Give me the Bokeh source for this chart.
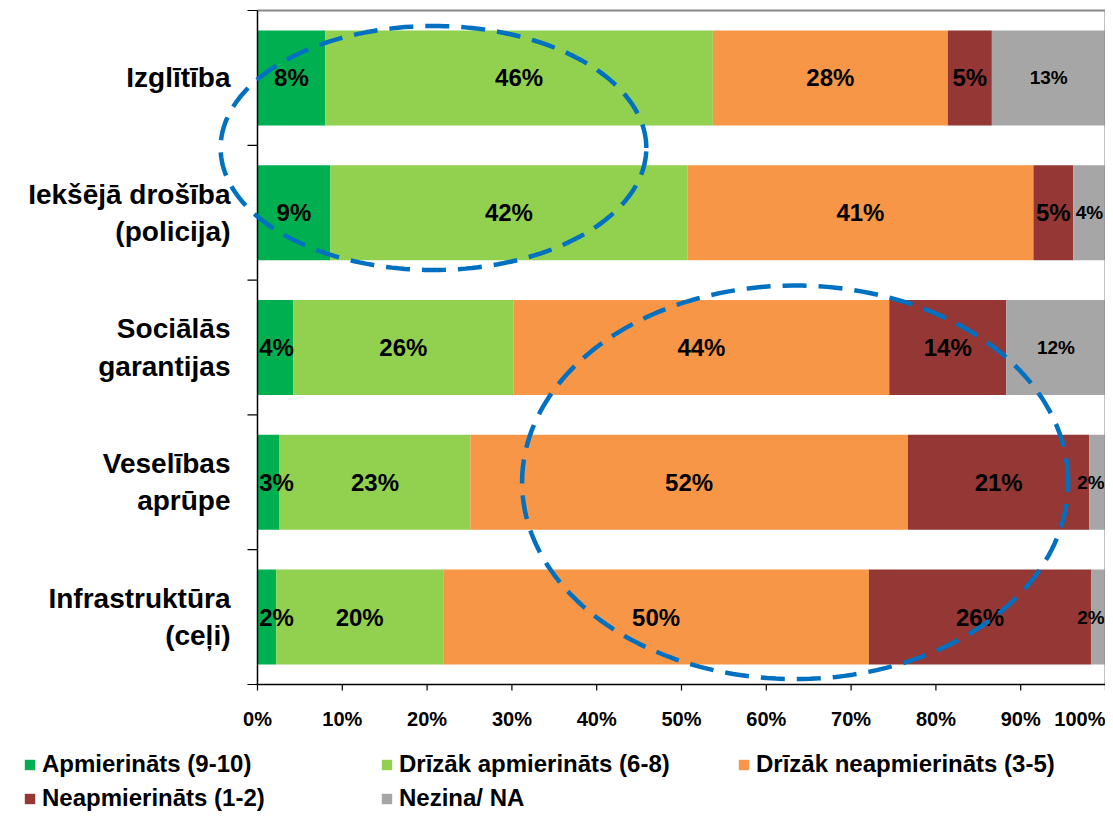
import numpy as np
from bokeh.plotting import figure
from bokeh.models import Range1d, Legend, LegendItem, PolyAnnotation, ColumnDataSource
from bokeh.core.properties import value
from bokeh.embed import file_html
from bokeh.resources import INLINE

# ---------------- data ----------------
categories = ["Izglītība", "Iekšējā drošība\n(policija)", "Sociālās\ngarantijas",
              "Veselības\naprūpe", "Infrastruktūra\n(ceļi)"]
series_names = ["Apmierināts (9-10)", "Drīzāk apmierināts (6-8)", "Drīzāk neapmierināts (3-5)",
                "Neapmierināts (1-2)", "Nezina/ NA"]
apmierinats = [8.0, 8.6, 4.2, 2.6, 2.2]
drizak_apmierinats = [45.7, 42.1, 26.0, 22.5, 19.7]
drizak_neapmierinats = [27.7, 40.8, 44.3, 51.6, 50.2]
neapmierinats = [5.2, 4.7, 13.8, 21.4, 26.2]
nezina = [13.4, 3.8, 11.7, 1.9, 1.7]
label_apm = ["8%", "9%", "4%", "3%", "2%"]
label_dapm = ["46%", "42%", "26%", "23%", "20%"]
label_dneapm = ["28%", "41%", "44%", "52%", "50%"]
label_neapm = ["5%", "5%", "14%", "21%", "26%"]
label_nezina = ["13%", "4%", "12%", "2%", "2%"]
x_ticks = [0, 10, 20, 30, 40, 50, 60, 70, 80, 90, 100]
x_tick_labels = ["0%", "10%", "20%", "30%", "40%", "50%", "60%", "70%", "80%", "90%", "100%"]

colors = ["#00B050", "#92D050", "#F79646", "#953735", "#A6A6A6"]
label_sizes = ["24px", "24px", "24px", "24px", "19px"]
FONT = "Liberation Sans"

# highlight ellipses (annotation overlay): centre x (%), centre y (band units), semi-axes
ellipses = [(20.75, 3.98, 25.1, 0.905), (63.4, 1.50, 32.2, 1.46)]

series = [apmierinats, drizak_apmierinats, drizak_neapmierinats, neapmierinats, nezina]
labels = [label_apm, label_dapm, label_dneapm, label_neapm, label_nezina]

n = len(categories)
ypos = [n - 0.5 - i for i in range(n)]

# ---------------- geometry (pixels) ----------------
W, H = 1105, 812
AXIS_X_PX, FRAME_LEFT_PX = 257, 23       # value axis origin, left edge of drawing area
TOP_PX, BOTTOM_PX = 10, 684              # top and bottom of the bar area
PX_X = (W - AXIS_X_PX) / 100.0           # pixels per percent
PX_Y = (BOTTOM_PX - TOP_PX) / n          # pixels per category band

p = figure(width=W, height=H, output_backend="svg", toolbar_location=None, title=None,
           x_range=Range1d(-(AXIS_X_PX - FRAME_LEFT_PX) / PX_X, 100),
           y_range=Range1d(-(H - BOTTOM_PX) / PX_Y, n + TOP_PX / PX_Y),
           x_axis_location=None, y_axis_location=None,
           min_border_left=FRAME_LEFT_PX, min_border_right=0, min_border_top=0, min_border_bottom=0)
p.outline_line_color = None
p.background_fill_color = "white"
p.border_fill_color = "white"
p.grid.visible = False

# bars
left = [0.0] * n
renderers = []
for s, col in zip(series, colors):
    right = [l + v for l, v in zip(left, s)]
    src = ColumnDataSource(dict(y=ypos, left=left, right=right))
    renderers.append(p.hbar(y="y", left="left", right="right", height=0.705, source=src,
                            fill_color=col, line_color=None))
    left = right

# data labels: centred in their segment; narrow end segments anchored inside the plot box
left = [0.0] * n
last = len(series) - 1
for k, (s, lab, size) in enumerate(zip(series, labels, label_sizes)):
    groups = {"center": ([], [], []), "left": ([], [], []), "right": ([], [], [])}
    for l, v, y, t in zip(left, s, ypos, lab):
        if k == 0 and v < 4.5:
            g, x = "left", l + 0.2
        elif k == last and v < 3:
            g, x = "right", l + v - 0.1
        else:
            g, x = "center", l + v / 2
        groups[g][0].append(x)
        groups[g][1].append(y)
        groups[g][2].append(t)
    for align, (xs, ys, ts) in groups.items():
        if xs:
            p.text(x=xs, y=ys, text=ts, text_font=value(FONT), text_font_style="bold",
                   text_font_size=size, text_align=align, text_baseline="middle",
                   text_color="black")
    left = [l + v for l, v in zip(left, s)]

# plot box: grey top/right border, black axis lines
p.segment(x0=[0, 100], y0=[n, 0], x1=[100, 100], y1=[n, n], line_color="#888888", line_width=2)
p.segment(x0=[0, 0], y0=[0, 0], x1=[0, 100], y1=[n, 0], line_color="black", line_width=1.5)

# category axis: ticks at band boundaries, labels at band centres
bounds = list(range(n + 1))
p.segment(x0=[0] * len(bounds), y0=bounds, x1=[-10 / PX_X] * len(bounds), y1=bounds,
          line_color="black", line_width=1.2)
p.text(x=[-27 / PX_X] * n, y=ypos, text=categories, text_font=value(FONT),
       text_font_style="bold", text_font_size="28px", text_align="right",
       text_baseline="middle", text_color="black", text_line_height=1.2)

# value axis: ticks and percent labels
p.segment(x0=x_ticks, y0=[0] * len(x_ticks), x1=x_ticks, y1=[-6 / PX_Y] * len(x_ticks),
          line_color="black", line_width=1.2)
p.text(x=x_ticks[:-1], y=[-34 / PX_Y] * (len(x_ticks) - 1), text=x_tick_labels[:-1],
       text_font=value(FONT), text_font_style="bold", text_font_size="20px",
       text_align="center", text_baseline="middle", text_color="black")
p.text(x=x_ticks[-1:], y=[-34 / PX_Y], text=x_tick_labels[-1:],
       text_font=value(FONT), text_font_style="bold", text_font_size="20px",
       text_align="right", text_baseline="middle", text_color="black")

# ellipses
th = np.linspace(0, 2 * np.pi, 200)
for cx, cy, a, b in ellipses:
    p.add_layout(PolyAnnotation(xs=list(cx + a * np.cos(th)), ys=list(cy + b * np.sin(th)),
                                fill_alpha=0, line_color="#0070C0", line_alpha=1.0, line_width=4.5,
                                line_dash="24 12", level="overlay"))

# legend (3 columns, 2 rows) at the bottom-left
legend = Legend(items=[LegendItem(label=nm, renderers=[r]) for nm, r in zip(series_names, renderers)],
                orientation="horizontal", ncols=3, location="bottom_left",
                glyph_width=13, glyph_height=13, label_standoff=6, label_width=332,
                label_height=26, spacing=6, padding=0, margin=0, border_line_color=None,
                background_fill_alpha=0,
                label_text_font=FONT, label_text_font_style="bold",
                label_text_font_size="24px", label_text_color="black")
p.add_layout(legend, "center")

open("out.html", "w").write(file_html(p, INLINE))
